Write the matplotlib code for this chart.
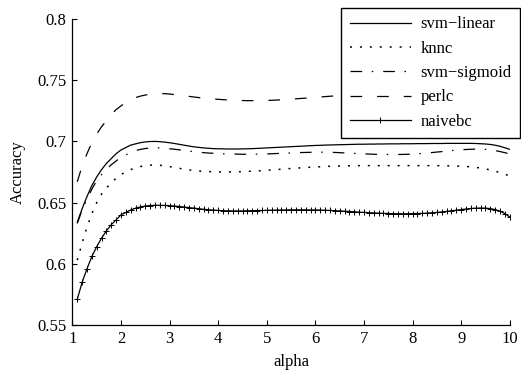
import matplotlib
matplotlib.use('Agg')
import matplotlib.pyplot as plt
import numpy as np
from matplotlib.ticker import FormatStrFormatter

# alpha = 1.1 : 0.1 : 10
alpha = np.round(np.arange(1.1, 10.05, 0.1), 1)

svm_linear = [
    0.634, 0.645, 0.655, 0.664, 0.671, 0.677, 0.682, 0.686, 0.690, 0.693,
    0.695, 0.697, 0.698, 0.699, 0.6996, 0.6999, 0.7000, 0.6998, 0.6994, 0.6989,
    0.6983, 0.6976, 0.6969, 0.6962, 0.6956, 0.6951, 0.6947, 0.6944, 0.6941, 0.6940,
    0.6939, 0.6938, 0.6938, 0.6938, 0.6939, 0.6940, 0.6941, 0.6943, 0.6945, 0.6947,
    0.6949, 0.6951, 0.6953, 0.6955, 0.6957, 0.6959, 0.6961, 0.6963, 0.6965, 0.6967,
    0.6968, 0.6970, 0.6971, 0.6972, 0.6973, 0.6974, 0.6975, 0.6976, 0.6977, 0.6977,
    0.6978, 0.6978, 0.6979, 0.6979, 0.6980, 0.6980, 0.6980, 0.6981, 0.6981, 0.6981,
    0.6982, 0.6982, 0.6982, 0.6983, 0.6983, 0.6983, 0.6984, 0.6984, 0.6984, 0.6984,
    0.6984, 0.6984, 0.6983, 0.6981, 0.6979, 0.6975, 0.6969, 0.6960, 0.6948, 0.6935]

knnc = [
    0.603, 0.617, 0.630, 0.641, 0.650, 0.657, 0.662, 0.666, 0.670, 0.673,
    0.675, 0.677, 0.6785, 0.6795, 0.6802, 0.6806, 0.6807, 0.6805, 0.6800, 0.6794,
    0.6787, 0.6780, 0.6773, 0.6767, 0.6762, 0.6758, 0.6755, 0.6753, 0.6752, 0.6751,
    0.6751, 0.6751, 0.6751, 0.6752, 0.6753, 0.6755, 0.6757, 0.6759, 0.6761, 0.6764,
    0.6767, 0.6770, 0.6773, 0.6776, 0.6779, 0.6782, 0.6784, 0.6787, 0.6789, 0.6791,
    0.6793, 0.6795, 0.6797, 0.6798, 0.6799, 0.6800, 0.6801, 0.6801, 0.6802, 0.6802,
    0.6802, 0.6802, 0.6802, 0.6802, 0.6802, 0.6802, 0.6802, 0.6802, 0.6802, 0.6802,
    0.6802, 0.6802, 0.6802, 0.6802, 0.6802, 0.6801, 0.6801, 0.6800, 0.6799, 0.6797,
    0.6795, 0.6792, 0.6788, 0.6782, 0.6775, 0.6767, 0.6757, 0.6745, 0.6732, 0.6717]

svm_sigmoid = [
    0.633, 0.644, 0.653, 0.661, 0.668, 0.673, 0.677, 0.681, 0.684, 0.687,
    0.689, 0.691, 0.6925, 0.6935, 0.6942, 0.6946, 0.6948, 0.6947, 0.6944, 0.6940,
    0.6936, 0.6931, 0.6926, 0.6921, 0.6916, 0.6912, 0.6908, 0.6905, 0.6903, 0.6901,
    0.6899, 0.6898, 0.6897, 0.6896, 0.6895, 0.6895, 0.6895, 0.6896, 0.6897, 0.6898,
    0.6899, 0.6901, 0.6903, 0.6904, 0.6906, 0.6908, 0.6909, 0.6910, 0.6911, 0.6912,
    0.6912, 0.6912, 0.6911, 0.6910, 0.6908, 0.6906, 0.6904, 0.6902, 0.6900, 0.6898,
    0.6897, 0.6895, 0.6894, 0.6894, 0.6893, 0.6893, 0.6893, 0.6894, 0.6895, 0.6897,
    0.6899, 0.6902, 0.6905, 0.6909, 0.6913, 0.6917, 0.6921, 0.6925, 0.6929, 0.6932,
    0.6934, 0.6936, 0.6937, 0.6937, 0.6935, 0.6931, 0.6925, 0.6917, 0.6908, 0.6897]

perlc = [
    0.667, 0.680, 0.690, 0.699, 0.706, 0.712, 0.717, 0.722, 0.726, 0.729,
    0.732, 0.7342, 0.7358, 0.7370, 0.7379, 0.7386, 0.7390, 0.7391, 0.7390, 0.7387,
    0.7383, 0.7378, 0.7373, 0.7368, 0.7363, 0.7358, 0.7354, 0.7350, 0.7347, 0.7344,
    0.7341, 0.7339, 0.7337, 0.7335, 0.7334, 0.7333, 0.7333, 0.7333, 0.7334, 0.7335,
    0.7336, 0.7338, 0.7340, 0.7342, 0.7345, 0.7348, 0.7351, 0.7354, 0.7357, 0.7360,
    0.7363, 0.7366, 0.7369, 0.7372, 0.7375, 0.7377, 0.7379, 0.7381, 0.7383, 0.7385,
    0.7386, 0.7387, 0.7388, 0.7389, 0.7390, 0.7390, 0.7390, 0.7390, 0.7390, 0.7390,
    0.7390, 0.7390, 0.7390, 0.7390, 0.7390, 0.7390, 0.7390, 0.7390, 0.7390, 0.7390,
    0.7390, 0.7390, 0.7389, 0.7388, 0.7387, 0.7385, 0.7383, 0.7380, 0.7377, 0.7373]

naivebc = [
    0.571, 0.585, 0.596, 0.606, 0.614, 0.621, 0.627, 0.632, 0.636, 0.640,
    0.642, 0.644, 0.6455, 0.6465, 0.6472, 0.6476, 0.6478, 0.6478, 0.6477, 0.6475,
    0.6472, 0.6468, 0.6464, 0.6459, 0.6455, 0.6450, 0.6446, 0.6442, 0.6439, 0.6436,
    0.6434, 0.6433, 0.6432, 0.6432, 0.6432, 0.6433, 0.6434, 0.6435, 0.6436, 0.6437,
    0.6438, 0.6439, 0.6440, 0.6440, 0.6441, 0.6441, 0.6441, 0.6441, 0.6440, 0.6440,
    0.6439, 0.6438, 0.6436, 0.6434, 0.6432, 0.6430, 0.6427, 0.6425, 0.6422, 0.6420,
    0.6418, 0.6416, 0.6414, 0.6412, 0.6411, 0.6410, 0.6409, 0.6409, 0.6409, 0.6410,
    0.6411, 0.6412, 0.6414, 0.6417, 0.6420, 0.6424, 0.6428, 0.6433, 0.6438, 0.6443,
    0.6448, 0.6452, 0.6455, 0.6456, 0.6455, 0.6451, 0.6443, 0.6430, 0.6410, 0.6382]

xticks = [1, 2, 3, 4, 5, 6, 7, 8, 9, 10]
yticks = [0.55, 0.6, 0.65, 0.7, 0.75, 0.8]

plt.rcParams['font.family'] = ['Liberation Serif', 'DejaVu Serif']
plt.rcParams['font.size'] = 12

fig = plt.figure(figsize=(5.21, 3.72), dpi=100)
ax = fig.add_axes([0.139, 0.1263, 0.8395, 0.8226])

lw = 0.9
ax.plot(alpha, svm_linear, color='black', lw=lw, linestyle='-', label='svm\u2212linear')
ax.plot(alpha, knnc, color='black', lw=1.1, linestyle=(0, (1.3, 5.2)), label='knnc')
ax.plot(alpha, svm_sigmoid, color='black', lw=lw, linestyle=(0, (9.3, 7.7, 1.2, 8)), label='svm\u2212sigmoid')
ax.plot(alpha, perlc, color='black', lw=lw, linestyle=(0, (9.3, 12)), label='perlc')
ax.plot(alpha, naivebc, color='black', lw=lw, linestyle='-', marker='+', markersize=4.5,
        markeredgewidth=0.7, label='naivebc')

ax.set_xlim(1, 10)
ax.set_ylim(0.55, 0.8)
ax.set_xticks(xticks)
ax.set_yticks(yticks)
ax.yaxis.set_major_formatter(FormatStrFormatter('%g'))
ax.spines['top'].set_visible(False)
ax.spines['right'].set_visible(False)
ax.spines['left'].set_linewidth(0.9)
ax.spines['bottom'].set_linewidth(0.9)
ax.tick_params(direction='in', length=3.5, width=0.8, pad=4.5, labelsize=12)
ax.set_xlabel('alpha', fontsize=12, labelpad=5)
ax.set_ylabel('Accuracy', fontsize=12, labelpad=8)

leg = ax.legend(loc='upper right', bbox_to_anchor=(520 / 521, 1 - 8 / 372),
                bbox_transform=fig.transFigure, borderaxespad=0, fancybox=False,
                framealpha=1, edgecolor='black', handlelength=3.66, labelspacing=0.5,
                handletextpad=0.6, borderpad=0.5, fontsize=12)
leg.get_frame().set_linewidth(1.0)

plt.savefig('out.png', dpi=100)
